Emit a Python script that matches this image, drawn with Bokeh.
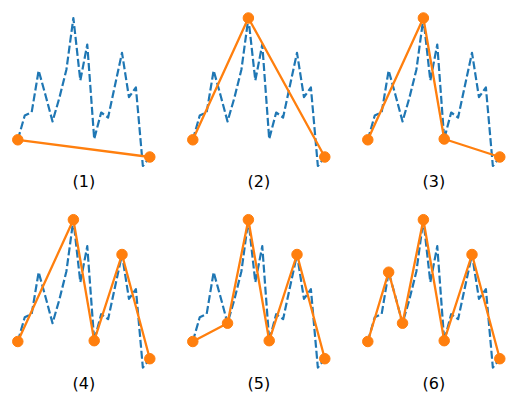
from bokeh.plotting import figure
from bokeh.layouts import gridplot
from bokeh.models import Range1d, Label
from bokeh.embed import file_html
from bokeh.resources import INLINE

# Data series (20 points)
x_vals = list(range(20))
y_vals = [3.57, 6.0, 6.33, 10.5, 8.0, 5.4, 7.8, 10.6, 15.75, 9.5,
          13.1, 3.65, 6.3, 5.8, 9.05, 12.27, 7.83, 8.8, 0.95, 1.85]

# Indices kept at each simplification step
steps = [
    [0, 19],
    [0, 8, 19],
    [0, 8, 11, 19],
    [0, 8, 11, 15, 19],
    [0, 5, 8, 11, 15, 19],
    [0, 3, 5, 8, 11, 15, 19],
]
labels = ["(1)", "(2)", "(3)", "(4)", "(5)", "(6)"]

BLUE = "#1f77b4"
ORANGE = "#ff7f0e"

col_widths = [175, 175, 157]
row_heights = [202, 192]
px_per_x = 6.947
px_per_y = 10.0
x_start = -17.3 / px_per_x
y_ends = [17.5, 17.47]

figs = []
for k in range(6):
    r, c = divmod(k, 3)
    w, h = col_widths[c], row_heights[r]
    p = figure(width=w, height=h, output_backend="svg", toolbar_location=None,
               x_range=Range1d(x_start, x_start + w / px_per_x),
               y_range=Range1d(y_ends[r] - h / px_per_y, y_ends[r]),
               min_border=0)
    p.axis.visible = False
    p.grid.visible = False
    p.outline_line_color = None
    p.background_fill_color = None
    p.border_fill_color = None
    p.line(x_vals, y_vals, line_color=BLUE, line_width=2.2, line_dash="8 3",
           line_join="round")
    sx = [x_vals[i] for i in steps[k]]
    sy = [y_vals[i] for i in steps[k]]
    p.line(sx, sy, line_color=ORANGE, line_width=2.3, line_join="round")
    p.scatter(sx, sy, size=10.5, fill_color=ORANGE, line_color=ORANGE)
    p.add_layout(Label(x=9.5, y=-0.6, text=labels[k], text_align="center",
                       text_baseline="middle", text_font="DejaVu Sans",
                       text_font_size="16px", text_color="black"))
    figs.append(p)

grid = gridplot([figs[0:3], figs[3:6]], toolbar_location=None)
open("out.html", "w").write(file_html(grid, INLINE))
